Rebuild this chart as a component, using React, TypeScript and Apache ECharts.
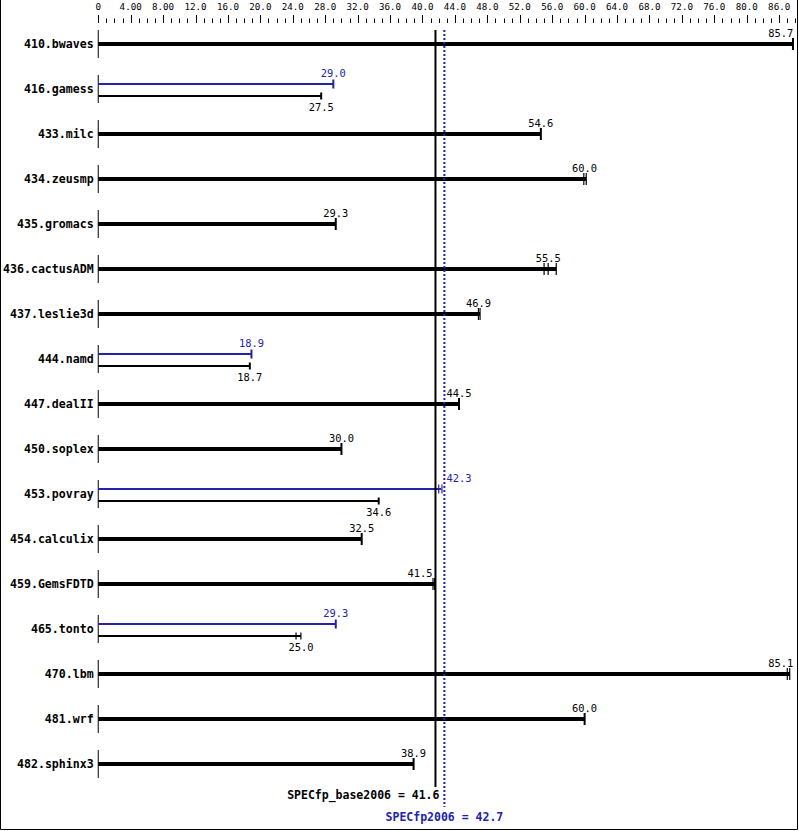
import React, { useEffect, useRef } from "react";
import * as echarts from "echarts";

const benchmarks = [
  "410.bwaves", "416.gamess", "433.milc", "434.zeusmp", "435.gromacs",
  "436.cactusADM", "437.leslie3d", "444.namd", "447.dealII", "450.soplex",
  "453.povray", "454.calculix", "459.GemsFDTD", "465.tonto", "470.lbm",
  "481.wrf", "482.sphinx3",
];
const baseScores = [85.7, 27.5, 54.6, 60.0, 29.3, 55.5, 46.9, 18.7, 44.5, 30.0, 34.6, 32.5, 41.5, 25.0, 85.1, 60.0, 38.9];
const peakScores: (number | null)[] = [null, 29.0, null, null, null, null, null, 18.9, null, null, 42.3, null, null, 29.3, null, null, null];
// individual run markers (empty = a single marker at the score)
const baseRuns: number[][] = [[], [], [], [59.9, 60.2], [], [55.0, 55.5, 56.5], [46.9, 47.1], [], [], [], [], [], [41.3, 41.5], [24.4, 25.0], [85.0, 85.3], [], []];
const peakRuns: number[][] = [[], [], [], [], [], [], [], [], [], [], [42.0, 42.4], [], [], [], [], [], []];
const tickLabels = ["0", "4.00", "8.00", "12.0", "16.0", "20.0", "24.0", "28.0", "32.0", "36.0", "40.0", "44.0", "48.0", "52.0", "56.0", "60.0", "64.0", "68.0", "72.0", "76.0", "80.0", "86.0"];
const baseMean = 41.6;
const peakMean = 42.7;
const baseMeanLabel = "SPECfp_base2006 = 41.6";
const peakMeanLabel = "SPECfp2006 = 42.7";
const axisMax = 86;
const majorStep = 4;
const minorStep = 1;

const BLUE = "#2222aa";
const MONO = "'DejaVu Sans Mono', 'Liberation Mono', monospace";

export default function App() {
  const ref = useRef<HTMLDivElement>(null);

  useEffect(() => {
    document.body.style.margin = "0";
    const chart = echarts.init(ref.current!, undefined, { renderer: "svg" });
    const valFont = `10.4px ${MONO}`;
    const charW = 6.26;

    const renderRow = (params: any, api: any) => {
      const i = api.value(1);
      const base = baseScores[i];
      const peak = peakScores[i];
      const [x0, yc] = api.coord([0, i]);
      const xb = api.coord([base, i])[0];
      const xBaseMean = api.coord([baseMean, i])[0];
      const xPeakMean = api.coord([peakMean, i])[0];
      const rightLimit = params.coordSys.x + params.coordSys.width - 2;
      const children: any[] = [];
      const line = (x1: number, y1: number, x2: number, y2: number, stroke: string, lw: number) =>
        children.push({ type: "line", shape: { x1, y1, x2, y2 }, style: { stroke, lineWidth: lw } });
      const label = (txt: string, xEnd: number, y: number, color: string) => {
        const w = txt.length * charW;
        let left = xEnd - w / 2;
        if (xEnd < xBaseMean) {
          if (left + w > xBaseMean - 2) left = xBaseMean - 3 - w;
        } else if (left < xPeakMean + 2) {
          left = xPeakMean + 2;
        }
        if (left + w > rightLimit) left = rightLimit - w;
        children.push({
          type: "text", x: left, y,
          style: { text: txt, fill: color, font: valFont, align: "left", verticalAlign: "middle" },
        });
      };
      line(x0, yc - 14, x0, yc + 14, "#000", 1);
      if (peak == null) {
        const runs = baseRuns[i];
        const barEnd = runs.length ? Math.max(base, ...runs) : base;
        line(x0, yc, api.coord([barEnd, i])[0], yc, "#000", 4);
        if (runs.length === 0) {
          line(xb, yc - 6, xb, yc + 6, "#000", 2);
        } else {
          runs.forEach((r) => {
            const xr = api.coord([r, i])[0];
            line(xr, yc - 6, xr, yc + 6, "#000", 1.2);
          });
        }
        label(base.toFixed(1), xb, yc - 11.5, "#000");
      } else {
        const xp = api.coord([peak, i])[0];
        const yp = yc - 5;
        const yb = yc + 7;
        line(x0, yp, xp, yp, BLUE, 2);
        const pr = peakRuns[i];
        if (pr.length === 0) line(xp, yp - 4.5, xp, yp + 4.5, BLUE, 2);
        else pr.forEach((r) => { const xr = api.coord([r, i])[0]; line(xr, yp - 4.5, xr, yp + 4.5, BLUE, 1.2); });
        line(x0, yb, xb, yb, "#000", 2);
        const br = baseRuns[i];
        if (br.length === 0) line(xb, yb - 3.5, xb, yb + 3.5, "#000", 2);
        else br.forEach((r) => { const xr = api.coord([r, i])[0]; line(xr, yb - 3.5, xr, yb + 3.5, "#000", 1.2); });
        label(peak.toFixed(1), xp, yc - 16, BLUE);
        label(base.toFixed(1), xb, yc + 17.5, "#000");
      }
      return { type: "group", children };
    };

    const renderMeans = (params: any, api: any) => {
      const last = benchmarks.length - 1;
      const [xb, yTop] = api.coord([baseMean, 0]);
      const xp = api.coord([peakMean, 0])[0];
      const yLast = api.coord([0, last])[1];
      const axisY = yTop - 21;
      const children: any[] = [
        { type: "line", shape: { x1: xb, y1: yTop - 14, x2: xb, y2: yLast + 23 }, style: { stroke: "#000", lineWidth: 2 } },
        { type: "line", shape: { x1: xp, y1: yTop - 14, x2: xp, y2: yLast + 43 }, style: { stroke: BLUE, lineWidth: 2, lineDash: [2, 2] } },
        { type: "text", x: xb + 4, y: yLast + 31, style: { text: baseMeanLabel, fill: "#000", font: `bold 11.5px ${MONO}`, align: "right", verticalAlign: "middle" } },
        { type: "text", x: xp, y: yLast + 53, style: { text: peakMeanLabel, fill: BLUE, font: `bold 11.5px ${MONO}`, align: "center", verticalAlign: "middle" } },
      ];
      for (let v = 0; v <= axisMax; v += minorStep) {
        const x = Math.round(api.coord([v, 0])[0]) + 0.5;
        const major = v % majorStep === 0;
        children.push({
          type: "line",
          shape: { x1: x, y1: axisY, x2: x, y2: axisY - (major ? 8 : 4.5) },
          style: { stroke: "#000", lineWidth: 1 },
        });
      }
      return { type: "group", children };
    };

    chart.setOption({
      animation: false,
      backgroundColor: "#fff",
      grid: { left: 97.5, top: 21.5, width: axisMax * 8.115, height: benchmarks.length * 45 },
      xAxis: {
        type: "value", position: "top", min: 0, max: axisMax, interval: majorStep, offset: -1.5,
        axisLine: { show: false },
        axisTick: { show: false },
        minorTick: { show: false },
        splitLine: { show: false },
        axisLabel: {
          show: true, margin: 12, color: "#000", fontFamily: MONO, fontSize: 9.2, showMaxLabel: false,
          formatter: (v: number) => tickLabels[Math.round(v / majorStep)] ?? "",
        },
      },
      yAxis: {
        type: "category", data: benchmarks, inverse: true,
        axisLine: { show: false }, axisTick: { show: false }, splitLine: { show: false },
        axisLabel: { margin: 4.5, color: "#000", fontFamily: MONO, fontWeight: "bold", fontSize: 11.6 },
      },
      graphic: [
        {
          type: "polyline", silent: true,
          shape: { points: [[0.5, 0], [0.5, 829.5], [797.5, 829.5], [797.5, 0]] },
          style: { stroke: "#000", lineWidth: 1, fill: "none" },
        },
      ],
      series: [
        {
          type: "custom", renderItem: renderRow, clip: false,
          encode: { x: 0, y: 1 },
          data: baseScores.map((v, i) => [v, i]),
        },
        {
          type: "custom", renderItem: renderMeans, clip: false,
          encode: { x: 0, y: 1 },
          data: [[baseMean, 0]],
        },
      ],
    });
    return () => chart.dispose();
  }, []);

  return (
    <div
      ref={ref}
      style={{ position: "absolute", left: 0, top: 0, width: 799, height: 831, background: "#fff" }}
    />
  );
}
